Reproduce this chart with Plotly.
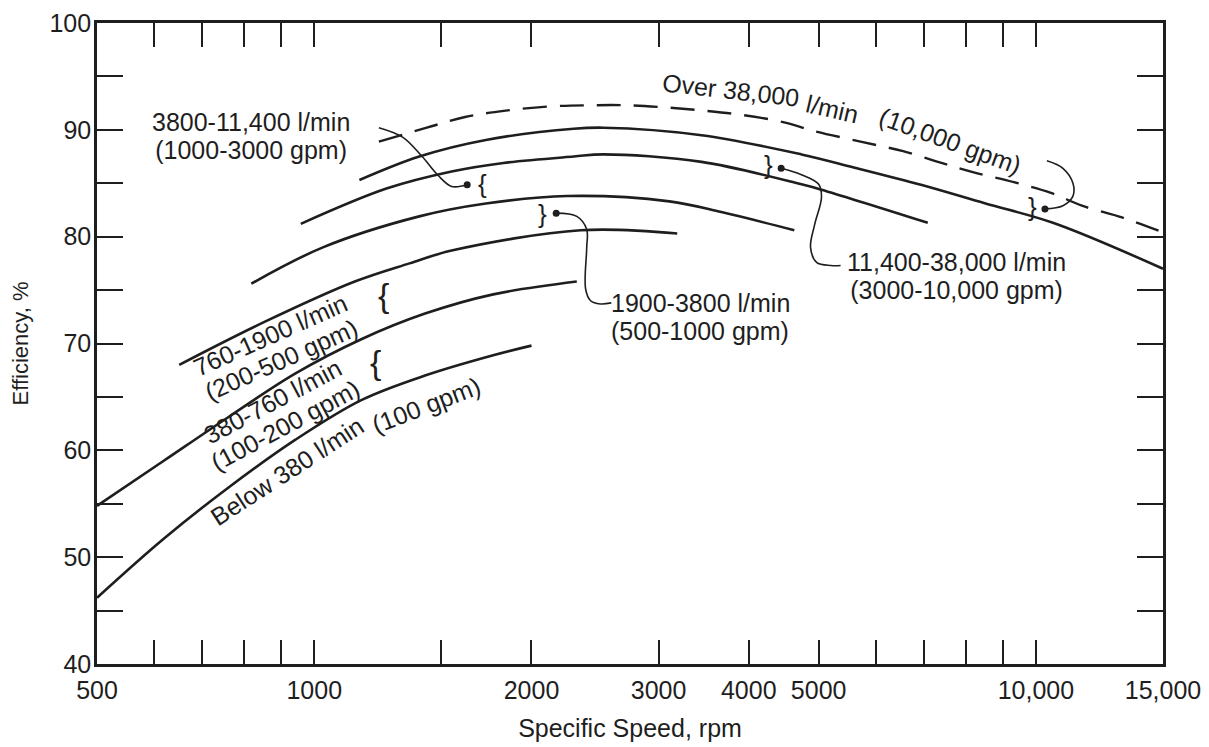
import numpy as np
import plotly.graph_objects as go

# ---- data: specific speed (rpm) vs efficiency (%) ----
over38000_x = [1229, 1432, 1618, 1842, 2130, 2415, 2713, 3066, 3464, 3913, 4479,
               4920, 5715, 6546, 7397, 8225, 9321, 10490, 11581, 13160, 15000]
over38000_y = [88.9, 90.2, 91.2, 91.8, 92.2, 92.3, 92.3, 92.1, 91.8, 91.4, 90.7,
               89.9, 88.9, 88.0, 86.9, 86.0, 85.1, 84.1, 82.9, 81.8, 80.4]

q38000_x = [1155, 1398, 1729, 2289, 2516, 3441, 4733, 5578, 6930, 8514, 10558, 15000]
q38000_y = [85.3, 87.5, 89.05, 90.1, 90.2, 89.5, 87.7, 86.5, 84.85, 83.1, 81.3, 77.0]

q11400_x = [958, 1259, 1550, 1829, 2289, 2516, 3441, 4733, 5045, 7082]
q11400_y = [81.2, 84.5, 86.1, 86.9, 87.5, 87.7, 87.0, 84.9, 84.4, 81.3]

q3800_x = [818, 1028, 1398, 1729, 2240, 3105, 3665, 4626]
q3800_y = [75.6, 79.0, 81.9, 83.1, 83.8, 83.3, 82.3, 80.6]

q1900_x = [650, 846, 1138, 1355, 1550, 2340, 3184]
q1900_y = [68.0, 71.9, 75.8, 77.5, 78.7, 80.6, 80.3]

q760_x = [500, 618, 760, 942, 1162, 1424, 1770, 2311]
q760_y = [54.8, 59.0, 63.1, 67.2, 70.4, 72.8, 74.6, 75.8]

q380_x = [500, 618, 760, 942, 1162, 1424, 1770, 2000]
q380_y = [46.2, 51.7, 56.5, 61.0, 64.7, 67.0, 68.9, 69.8]

# leader lines (curved pointers) and their end dots
lead_a_x = [1229, 1327, 1411, 1486, 1550, 1629]
lead_a_y = [90.2, 89.3, 87.5, 85.7, 84.7, 84.85]
lead_d_x = [2164, 2311, 2385, 2385, 2377, 2415, 2492, 2580]
lead_d_y = [82.2, 81.9, 80.7, 78.9, 75.1, 74.0, 73.7, 73.8]
lead_c_x = [4436, 4733, 5000, 5045, 4935, 4872, 4967, 5201, 5362]
lead_c_y = [86.4, 85.8, 84.9, 83.7, 81.1, 79.0, 77.6, 77.3, 77.3]
lead_b_x = [10357, 10900, 11254, 11254, 10900, 10292]
lead_b_y = [87.1, 86.4, 85.0, 83.8, 82.9, 82.6]
dot_x = [1629, 2164, 4436, 10292]
dot_y = [84.85, 82.2, 86.4, 82.6]

# ticks
x_tickvals = [500, 600, 700, 800, 900, 1000, 1500, 2000, 3000, 4000, 5000,
              6000, 7000, 8000, 9000, 10000, 15000]
x_ticktext = ["500", "", "", "", "", "1000", "", "2000", "3000", "4000", "5000",
              "", "", "", "", "10,000", "15,000"]
y_tickvals = [40, 45, 50, 55, 60, 65, 70, 75, 80, 85, 90, 95, 100]
y_ticktext = ["40", "", "50", "", "60", "", "70", "", "80", "", "90", "", "100"]

INK = "#1e1e1e"
FONT = "Liberation Sans"

fig = go.Figure()


def curve(x, y, width=2.6, dash=None):
    fig.add_trace(go.Scatter(
        x=x, y=y, mode="lines",
        line=dict(color=INK, width=width, shape="spline", smoothing=1.0,
                  dash=dash),
        showlegend=False, hoverinfo="skip"))


curve(over38000_x, over38000_y, width=2.4, dash="24px,13px")
curve(q38000_x, q38000_y)
curve(q11400_x, q11400_y)
curve(q3800_x, q3800_y)
curve(q1900_x, q1900_y)
curve(q760_x, q760_y)
curve(q380_x, q380_y)

for lx, ly in [(lead_a_x, lead_a_y), (lead_d_x, lead_d_y),
               (lead_c_x, lead_c_y), (lead_b_x, lead_b_y)]:
    curve(lx, ly, width=1.6)

fig.add_trace(go.Scatter(x=dot_x, y=dot_y, mode="markers",
                         marker=dict(color=INK, size=7),
                         showlegend=False, hoverinfo="skip"))

annotations = []
TXT = 25


def label(lines, px, py, angle=0, xanchor="center", align="center",
          spacing=28):
    # glyphs at TXT px; line pitch follows the annotation font size (1.3 em)
    body = "<br>".join(
        "<span style='font-size:%dpx'>%s</span>" % (TXT, s) for s in lines)
    annotations.append(dict(
        text=body, xref="paper", yref="paper", x=px, y=py,
        xanchor=xanchor, yanchor="middle", textangle=angle, showarrow=False,
        align=align,
        font=dict(family=FONT, size=spacing / 1.3 if len(lines) > 1 else TXT,
                  color=INK)))


def brace(text, n, e, size=26):
    annotations.append(dict(
        text=text, xref="x", yref="y", x=np.log10(n), y=e,
        xanchor="center", yanchor="middle", showarrow=False,
        font=dict(family=FONT, size=size, color=INK)))


label(["3800-11,400 l/min", "(1000-3000 gpm)"], 0.1445, 0.823)

label(["Over 38,000"], 0.5947, 0.8947, angle=6.5)
label(["l/min"], 0.690, 0.8662, angle=13)
label(["(10,000 gpm)"], 0.801, 0.8165, angle=20)

label(["11,400-38,000 l/min", "(3000-10,000 gpm)"], 0.7017, 0.6051,
      xanchor="left", align="center")

label(["1900-3800 l/min", "(500-1000 gpm)"], 0.4803, 0.5418,
      xanchor="left", align="left")

label(["760-1900 l/min", "(200-500 gpm)"], 0.1674, 0.4941, angle=-24,
      spacing=27)
label(["380-760 l/min", "(100-200 gpm)"], 0.1703, 0.3908, angle=-28,
      spacing=27)

label(["Below 380 l/min"], 0.1785, 0.3005, angle=-33)
label(["(100 gpm)"], 0.3088, 0.4048, angle=-21)

brace("{", 1712, 84.9)
brace("}", 2070, 82.1)
brace("}", 4267, 86.7)
brace("}", 9905, 82.8)
brace("{", 1248, 74.5, size=34)
brace("{", 1217, 68.3, size=34)

axis_common = dict(
    showline=True, linewidth=2.6, linecolor=INK, mirror="ticks",
    ticks="inside", tickcolor=INK, tickwidth=1.8,
    showgrid=False, zeroline=False, automargin=False,
    ticklabeloverflow="allow",
    tickfont=dict(family=FONT, size=25, color=INK),
)

# the page places the figure 8 px in from the window's top-left corner
fig.update_layout(
    width=1201, height=739,
    margin=dict(l=89, r=46, t=15, b=83),
    paper_bgcolor="white", plot_bgcolor="white",
    xaxis=dict(type="log", range=[np.log10(500), np.log10(15000)],
               tickvals=x_tickvals, ticktext=x_ticktext, ticklen=24,
               ticklabelstandoff=2,
               title=dict(text="Specific Speed, rpm", standoff=17,
                          font=dict(family=FONT, size=25, color=INK)),
               **axis_common),
    yaxis=dict(range=[40, 100], tickvals=y_tickvals, ticktext=y_ticktext,
               ticklen=26, ticklabelstandoff=-2,
               title=dict(text="Efficiency, %", standoff=27,
                          font=dict(family=FONT, size=22, color=INK)),
               **axis_common),
    annotations=annotations,
)

fig.write_html("out.html")
